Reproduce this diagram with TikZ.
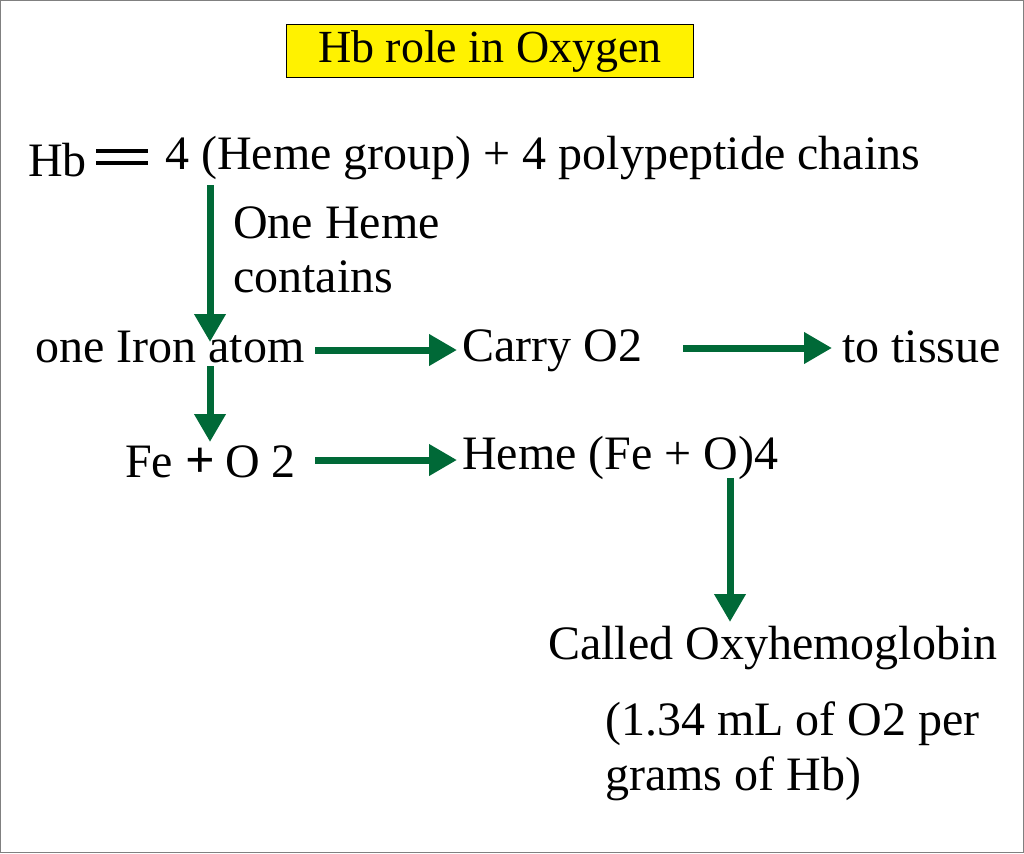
\documentclass[tikz,border=0pt]{standalone}
\usepackage{fontspec}
\setmainfont{Liberation Serif}
\usetikzlibrary{arrows.meta}
\definecolor{grn}{RGB}{0,105,55}
\begin{document}
\begin{tikzpicture}[x=1pt,y=-1pt,
  txt/.style={inner sep=0pt,font=\fontsize{48}{54}\selectfont},
  ga/.style={draw=grn,line width=7pt,-{Triangle[length=28pt,width=30pt]}}]
\useasboundingbox (0,0) rectangle (1024,853);
\draw[gray,line width=1pt] (0.5,0.5) rectangle (1023.5,852.5);
\node[draw=black,fill=yellow,line width=1pt,minimum width=407pt,minimum height=53pt,inner sep=0pt,font=\fontsize{46}{50}\selectfont] (title) at (490,51.5) {Hb role in Oxygen};
\node[txt,anchor=west] (hb) at (28,160) {Hb};
\draw[line width=4pt] (96,151) -- (148,151) (96,163) -- (148,163);
\node[txt,anchor=west] (heme) at (165,158) {4 (Heme group) + 4 polypeptide chains};
\node[txt,anchor=west,align=left,font=\fontsize{48}{54}\selectfont] (one) at (233,250) {One Heme\\contains};
\node[txt,anchor=west] (iron) at (35,347) {one Iron atom};
\node[txt,anchor=west] (carry) at (462,351) {Carry O2};
\node[txt,anchor=west] (tissue) at (842,347) {to tissue};
\node[txt,anchor=west] (fe) at (125,462) {Fe};
\node[inner sep=0pt,font=\fontsize{52}{54}\selectfont\bfseries] (plus) at (200,463) {+};
\node[txt,anchor=west] (o2) at (225,462) {O 2};
\node[txt,anchor=west] (hfe) at (462,458) {Heme (Fe + O)4};
\node[txt,anchor=west] (called) at (548,648) {Called Oxyhemoglobin};
\node[txt,anchor=west,align=left,font=\fontsize{48}{55}\selectfont] (ml) at (605,751) {(1.34 mL of O2 per\\grams of Hb)};
\coordinate (a1) at (210,185); \coordinate (a1e) at (210,342);
\draw[ga] (a1) -- (a1e);
\draw[ga] (210,366) -- (210,442);
\draw[ga] (315,350) -- (457,350);
\draw[ga] (683,348) -- (832,348);
\draw[ga] (315,460) -- (457,460);
\draw[ga] (730,478) -- (730,622);
\end{tikzpicture}
\end{document}
